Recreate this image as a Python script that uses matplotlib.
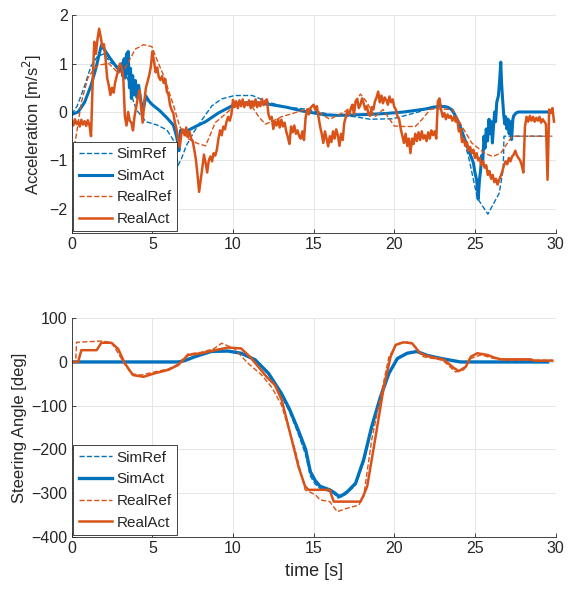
import numpy as np
import matplotlib
matplotlib.use('Agg')
import matplotlib.pyplot as plt

plt.rcParams['font.family'] = ['Liberation Sans', 'DejaVu Sans']

BLUE = '#0072BD'
ORANGE = '#D95319'
DARK = '#262626'
GRID = '#e2e2e2'

# ---------------- acceleration [m/s^2] ----------------
acc_simref_t = [0.0, 0.35, 0.8, 1.2, 1.6, 2.0, 2.4, 2.8, 3.2, 3.6, 3.8, 4.0, 4.6, 5.3,
                5.9, 6.3, 6.5, 6.6, 6.8, 7.1, 7.6, 8.1, 8.7, 9.3, 10.1, 11.2, 12.2,
                13.3, 14.5, 16.0, 17.6, 18.5, 19.9, 20.6, 21.5, 22.25, 22.8, 23.4,
                24.0, 24.6, 25.15, 25.8, 26.5, 26.75, 26.8, 29.8]
acc_simref = [-0.05, 0.13, 0.54, 0.95, 1.15, 1.2, 1.02, 0.95, 0.85, 0.6, 0.25, 0.05,
              -0.2, -0.27, -0.37, -0.58, -0.9, -1.1, -0.97, -0.7, -0.4, -0.15, 0.13,
              0.27, 0.34, 0.34, 0.2, 0.1, 0.06, -0.05, -0.1, -0.15, -0.14, -0.08,
              0.0, 0.1, 0.15, 0.1, -0.22, -0.92, -1.78, -2.11, -1.68, -1.19, -0.5, -0.5]

acc_simact_t = [0.0, 0.4, 0.8, 1.2, 1.5, 1.84, 2.1, 2.4, 2.8, 3.0, 3.1, 3.15, 3.25, 3.3,
                3.4, 3.45, 3.5, 3.58, 3.65, 3.7, 3.78, 3.85, 3.95, 4.05, 4.15, 4.3,
                4.45, 4.6, 4.8, 5.0, 5.45, 5.9, 6.3, 6.5, 6.6, 6.65, 6.7, 6.75, 7.1,
                7.5, 8.3, 9.1, 9.9, 10.5, 11.2, 12.2, 13.3, 14.3, 15.0, 15.7, 16.5,
                17.5, 18.5, 19.5, 20.6, 21.9, 22.5, 22.8, 23.3, 23.6, 24.0, 24.3,
                24.6, 24.9, 25.0, 25.1, 25.15, 25.2, 25.28, 25.35, 25.42, 25.48,
                25.56, 25.62, 25.7, 25.78, 25.87, 25.95, 26.02, 26.08, 26.15, 26.22,
                26.28, 26.35, 26.45, 26.52, 26.6, 26.65, 26.7, 26.78, 26.85, 26.9,
                26.98, 27.05, 27.12, 27.2, 27.27, 27.35, 27.4, 27.55, 27.7, 29.5]
acc_simact = [-0.05, 0.0, 0.2, 0.55, 0.9, 1.38, 1.25, 1.1, 0.92, 0.85, 1.0, 0.75, 1.1,
              0.7, 1.2, 0.8, 1.25, 0.5, 0.9, 0.28, 0.75, 0.35, 0.65, 0.3, 0.55, 0.2,
              0.06, 0.33, 0.22, 0.15, 0.03, -0.12, -0.27, -0.5, -0.68, -0.8, -0.55,
              -0.38, -0.4, -0.33, -0.2, -0.02, 0.12, 0.18, 0.2, 0.16, 0.1, 0.02,
              -0.02, -0.06, -0.07, -0.06, -0.05, -0.03, 0.0, 0.06, 0.1, 0.12, 0.1,
              0.04, -0.22, -0.5, -0.78, -1.05, -1.25, -1.4, -1.55, -1.8, -1.4, -1.2,
              -0.9, -1.05, -0.5, -0.75, -0.35, -0.6, -0.15, -0.45, -0.2, -0.64, -0.3,
              0.0, -0.2, 0.2, 0.33, 0.6, 1.03, 0.6, 0.33, -0.05, -0.25, -0.1, -0.35,
              -0.15, -0.45, -0.2, -0.57, -0.15, -0.08, -0.02, 0.0, 0.0]

acc_realref_t = [0.0, 0.25, 0.6, 1.0, 1.3, 1.65, 2.3, 2.9, 3.3, 3.95, 4.45, 4.97, 5.2,
                 5.7, 6.0, 6.3, 6.7, 7.2, 7.8, 8.3, 8.9, 9.5, 10.0, 10.6, 11.2, 11.6,
                 12.0, 12.4, 13.0, 13.5, 14.0, 14.5, 15.0, 15.5, 16.0, 16.9, 17.5,
                 17.9, 18.3, 18.8, 19.3, 20.0, 20.6, 21.3, 21.6, 22.25, 23.0, 23.6,
                 24.2, 24.8, 25.6, 26.1, 26.6, 27.3, 29.8]
acc_realref = [-1.0, -0.55, 0.2, 0.7, 0.85, 0.97, 1.0, 0.8, 0.9, 1.3, 1.39, 1.35, 1.15,
               0.75, 0.45, 0.15, -0.3, -0.55, -0.65, -0.7, -0.22, -0.05, 0.1, 0.2,
               0.1, -0.1, -0.25, -0.2, -0.1, -0.05, 0.0, 0.05, 0.1, -0.05, -0.15,
               0.0, 0.15, 0.37, 0.2, -0.1, 0.05, -0.29, -0.3, -0.3, -0.2, 0.06, 0.06,
               0.05, -0.3, -0.64, -0.85, -0.92, -0.85, -0.5, -0.5]

acc_realact_t = np.round(np.arange(0, 300) * 0.1, 1)
acc_realact = [
    -0.18, -0.28, -0.15, -0.25, -0.20, -0.30, -0.16, -0.26, -0.19, -0.29,
    -0.17, -0.27, -0.50, 0.60, 1.45, 1.20, 1.50, 1.72, 1.55, 1.35,
    1.40, 1.10, 0.70, 0.55, 0.35, 0.50, 0.40, 0.62, 0.75, 0.90,
    1.00, 0.92, 0.70, -0.10, -0.28, 0.00, -0.18, -0.22, -0.38, -0.08,
    0.10, 0.30, 0.45, 0.10, -0.22, 0.20, 0.50, 0.62, 0.75, 0.92,
    1.25, 1.05, 0.82, 0.92, 0.72, 0.66, 0.74, 0.60, 0.68, 0.42,
    0.36, 0.14, 0.04, -0.02, -0.22, -0.36, -0.56, -0.72, -0.45, -0.36,
    -0.48, -0.32, -0.52, -0.40, -0.55, -0.60, -0.78, -0.98, -1.30, -1.65,
    -1.40, -1.15, -0.88, -1.05, -1.25, -1.00, -0.92, -1.02, -0.85, -0.90,
    -0.78, -0.55, -0.38, -0.48, -0.30, -0.36, -0.20, -0.10, -0.18, -0.05,
    0.25, 0.10, 0.22, 0.08, 0.24, 0.12, 0.26, 0.10, 0.20, 0.14,
    0.24, 0.08, 0.22, 0.12, 0.26, 0.10, 0.20, 0.12, 0.27, 0.14,
    0.22, 0.26, -0.05, -0.15, -0.10, -0.35, -0.20, -0.28, -0.15, -0.32,
    -0.16, -0.30, -0.22, -0.40, -0.52, -0.66, -0.30, -0.42, -0.28, -0.45,
    -0.38, -0.50, -0.55, -0.40, -0.58, -0.12, 0.05, -0.05, 0.08, 0.12,
    0.15, 0.05, 0.12, -0.10, -0.30, -0.45, -0.64, -0.40, -0.55, -0.71,
    -0.50, -0.62, -0.40, -0.55, -0.36, -0.48, -0.70, -0.45, -0.58, -0.22,
    -0.10, 0.02, -0.05, 0.06, 0.15, -0.05, 0.22, 0.27, 0.08, 0.15,
    0.28, 0.18, 0.05, 0.12, -0.05, -0.08, 0.10, 0.05, 0.22, 0.30,
    0.42, 0.20, 0.34, 0.18, 0.30, 0.25, 0.15, 0.32, 0.20, 0.26,
    0.10, 0.05, -0.10, -0.15, -0.35, -0.50, -0.64, -0.45, -0.70, -0.55,
    -0.85, -0.55, -0.66, -0.45, -0.60, -0.42, -0.58, -0.40, -0.55, -0.48,
    -0.60, -0.42, -0.55, -0.38, -0.48, -0.40, -0.55, 0.22, 0.28, 0.05,
    -0.10, -0.02, -0.15, -0.05, -0.12, -0.08, -0.18, -0.10, -0.20, -0.15,
    -0.40, -0.35, -0.62, -0.55, -0.70, -0.62, -0.80, -0.72, -0.85, -0.78,
    -0.95, -0.85, -1.00, -0.95, -1.10, -1.02, -1.15, -1.10, -1.30, -1.22,
    -1.38, -1.30, -1.45, -1.38, -1.50, -1.40, -1.32, -1.22, -1.10, -1.02,
    -1.08, -0.95, -1.02, -0.92, -0.88, -0.80, -0.90, -0.95, -1.00, -1.10,
    -1.25, -0.30, -0.10, -0.20, -0.08, -0.18, -0.10, -0.20, -0.12, -0.18,
    -0.10, -0.22, -0.15, -0.20, -0.25, -1.40, 0.05, -0.02, 0.08, -0.20,
]

# ---------------- steering angle [deg] ----------------
st_simact_t = [0.0, 6.6, 7.0, 7.64, 8.65, 9.68, 10.5, 11.37, 12.2, 13.0, 13.5, 14.0,
               14.5, 14.8, 15.1, 15.4, 16.0, 16.3, 16.56, 16.8, 17.1, 17.6, 18.1,
               18.6, 19.15, 19.67, 20.19, 20.8, 21.4, 22.05, 22.9, 24.1, 29.5]
st_simact = [0, 0, 3, 12, 24, 25, 20, 5, -26, -72, -108, -152, -200, -252, -272,
             -285, -293, -300, -308, -305, -297, -278, -224, -148, -79, -26, 8, 20,
             24, 15, 8, 0, 0]

st_simref_t = [0.0, 6.6, 7.0, 7.6, 8.6, 9.6, 10.5, 11.3, 12.2, 13.0, 13.5, 14.0,
               14.5, 14.8, 15.1, 15.4, 16.0, 16.3, 16.5, 16.8, 17.1, 17.6, 18.1,
               18.6, 19.1, 19.6, 20.2, 20.8, 21.4, 22.0, 22.9, 24.0, 29.5]
st_simref = [0, 0, 2, 11, 23, 26, 21, 6, -28, -76, -114, -160, -212, -262, -280,
             -290, -297, -303, -312, -308, -300, -282, -230, -155, -84, -30, 6, 19,
             23, 16, 7, 0, 0]

st_realact_t = [0.0, 0.4, 0.6, 1.55, 1.84, 2.46, 2.88, 3.29, 3.8, 4.45, 5.15, 6.0,
                6.6, 7.22, 8.05, 8.88, 9.7, 10.5, 11.05, 11.57, 12.08, 12.6, 13.02,
                13.54, 14.06, 14.47, 14.68, 16.0, 16.1, 16.25, 17.9, 18.1, 18.32,
                18.84, 19.35, 19.77, 20.08, 20.57, 21.1, 21.6, 22.2, 23.08, 23.7,
                24.0, 24.43, 24.74, 25.15, 25.78, 26.2, 26.6, 28.46, 28.67, 29.8]
st_realact = [0, 0, 27, 27, 44, 44, 30, -3, -30, -34, -26, -18, -7, 16, 20, 27, 33,
              31, 12, -11, -34, -53, -87, -163, -240, -285, -293, -293, -305, -320,
              -320, -305, -285, -171, -57, 12, 39, 45, 43, 20, 12, 5, -14, -21, -11,
              12, 20, 16, 10, 6, 6, 3, 3]

st_realref_t = [0.0, 0.25, 0.3, 1.84, 2.46, 2.77, 3.2, 3.7, 4.3, 5.0, 6.0, 6.6, 7.2,
                8.0, 8.8, 9.3, 10.1, 10.9, 11.78, 12.4, 13.0, 13.85, 14.47, 15.1,
                15.4, 16.0, 16.46, 17.1, 17.8, 18.1, 18.6, 19.15, 19.67, 20.19, 20.8,
                21.3, 21.8, 23.0, 23.8, 24.3, 24.74, 25.36, 26.2, 27.0, 29.8]
st_realref = [0, 0, 45, 48, 45, 27, 0, -27, -30, -24, -16, -5, 18, 22, 30, 43, 30,
              -2, -30, -58, -98, -201, -293, -304, -316, -320, -343, -335, -328,
              -308, -178, -79, 12, 43, 46, 35, 12, 4, -23, -18, 8, 16, 8, 4, 4]

fig = plt.figure(figsize=(5.68, 5.92), dpi=100)
ax1 = fig.add_axes([0.1262, 0.6064, 0.852, 0.368])
ax2 = fig.add_axes([0.1262, 0.0937, 0.852, 0.3686])


def style(ax):
    ax.set_xlim(0, 30)
    ax.set_xticks([0, 5, 10, 15, 20, 25, 30])
    ax.grid(True, color=GRID, linewidth=0.6)
    ax.set_axisbelow(True)
    for s in ['top', 'right']:
        ax.spines[s].set_visible(False)
    for s in ['left', 'bottom']:
        ax.spines[s].set_color(DARK)
        ax.spines[s].set_linewidth(0.6)
    ax.tick_params(direction='in', length=3, width=0.6, colors=DARK,
                   labelsize=11.5, labelcolor=DARK, pad=3)


# top panel
ax1.plot(acc_simref_t, acc_simref, '--', color=BLUE, lw=1.0, label='SimRef')
ax1.plot(acc_simact_t, acc_simact, '-', color=BLUE, lw=2.2, label='SimAct')
ax1.plot(acc_realref_t, acc_realref, '--', color=ORANGE, lw=1.0, label='RealRef')
ax1.plot(acc_realact_t, acc_realact, '-', color=ORANGE, lw=1.8, label='RealAct')
style(ax1)
ax1.set_ylim(-2.5, 2)
ax1.set_yticks([-2, -1, 0, 1, 2])
ax1.set_ylabel('Acceleration [m/s$^2$]', fontsize=12, color=DARK, labelpad=4)

# bottom panel
ax2.plot(st_simref_t, st_simref, '--', color=BLUE, lw=1.0, label='SimRef')
ax2.plot(st_simact_t, st_simact, '-', color=BLUE, lw=2.4, label='SimAct')
ax2.plot(st_realref_t, st_realref, '--', color=ORANGE, lw=1.0, label='RealRef')
ax2.plot(st_realact_t, st_realact, '-', color=ORANGE, lw=1.8, label='RealAct')
style(ax2)
ax2.set_ylim(-400, 100)
ax2.set_yticks([-400, -300, -200, -100, 0, 100])
ax2.set_ylabel('Steering Angle [deg]', fontsize=12, color=DARK, labelpad=3)
ax2.set_xlabel('time [s]', fontsize=13, color=DARK, labelpad=5)

for ax in (ax1, ax2):
    leg = ax.legend(loc='lower left', fontsize=11, fancybox=False, framealpha=1,
                    edgecolor=DARK, borderaxespad=0.1, handlelength=2.2,
                    labelspacing=0.5, borderpad=0.35, handletextpad=0.3)
    leg.get_frame().set_linewidth(0.6)
    for txt in leg.get_texts():
        txt.set_color(DARK)

fig.savefig('out.png', dpi=100, facecolor='white')
